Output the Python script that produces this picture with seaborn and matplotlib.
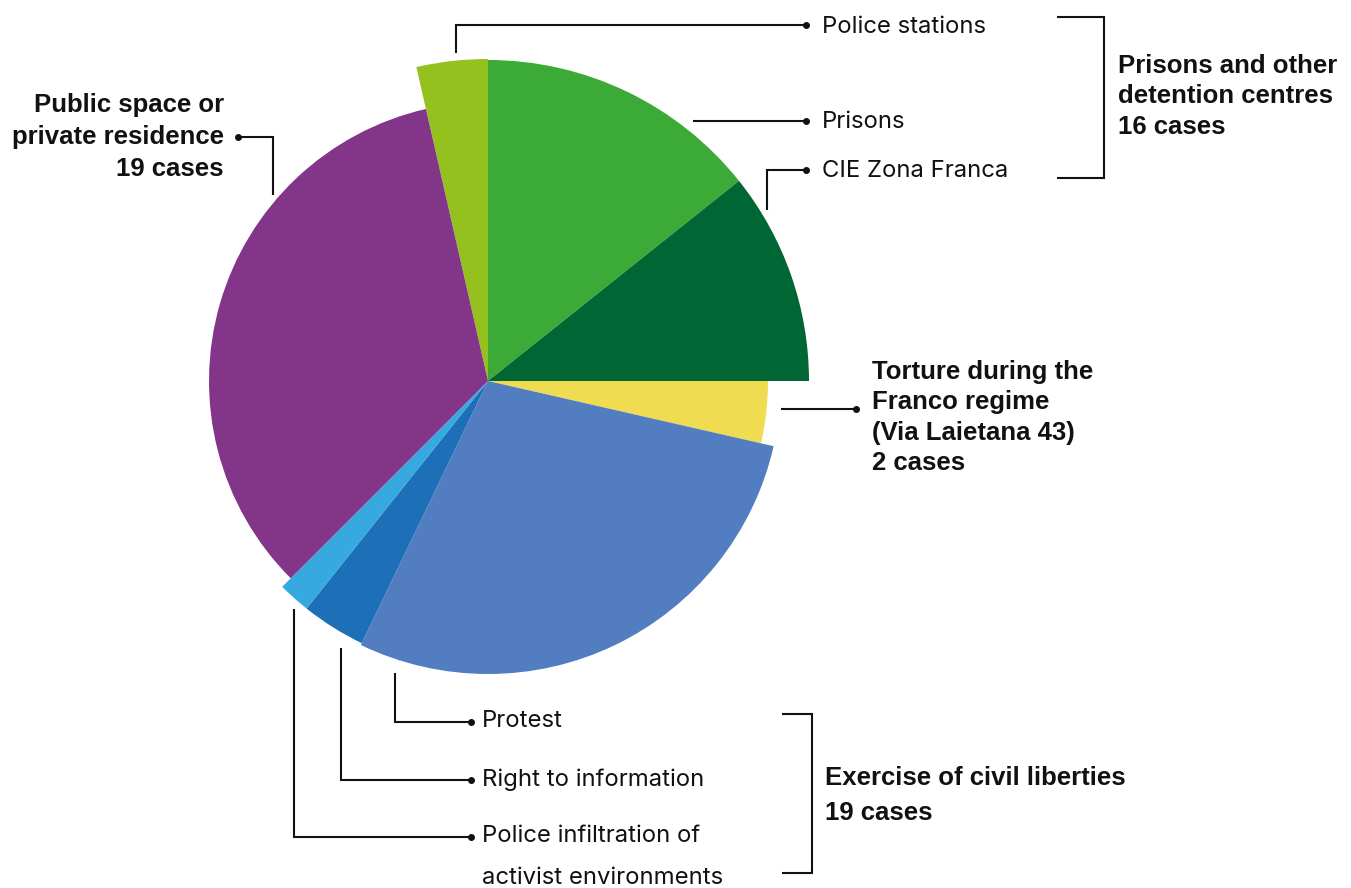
import matplotlib
matplotlib.use("Agg")
import matplotlib.pyplot as plt
import seaborn as sns

# slices, clockwise starting at the top-left (police stations)
slice_labels = ["Police stations", "Prisons", "CIE Zona Franca",
                "Torture during the Franco regime (Via Laietana 43)",
                "Protest", "Right to information",
                "Police infiltration of activist environments",
                "Public space or private residence"]
cases = [2, 8, 6, 2, 16, 2, 1, 19]
slice_colors = ["#95c11f", "#3caa36", "#006633", "#f0dc50",
                "#527dc0", "#1d70b7", "#36a9e1", "#823589"]

group_prisons = ["Prisons and other", "detention centres", "16 cases"]
group_public = ["Public space or", "private residence", "19 cases"]
group_torture = ["Torture during the", "Franco regime", "(Via Laietana 43)", "2 cases"]
group_civil = ["Exercise of civil liberties", "19 cases"]
infiltration_lines = ["Police infiltration of", "activist environments"]

# styling: outer radius of every slice in pixels
radii = [322, 321, 321, 280, 293, 291, 291, 279]

sns.set_theme(style="white")
regular = ["Inter", "DejaVu Sans"]
bold = ["Liberation Sans", "DejaVu Sans"]

W, H = 1351, 888
fig = plt.figure(figsize=(W / 100, H / 100), dpi=100)
ax = fig.add_axes([0, 0, 1, 1])

total = sum(cases)
start = 90 + cases[0] / total * 360
wedges, _ = ax.pie(cases, colors=sns.color_palette(slice_colors), startangle=start,
                   counterclock=False, center=(488, H - 381), radius=1,
                   wedgeprops=dict(linewidth=0))
for w, r in zip(wedges, radii):
    w.set_radius(r)

ax.set_xlim(0, W)
ax.set_ylim(0, H)
ax.set_aspect("equal")
ax.axis("off")


def leader(pts, dot=True):
    xs = [p[0] for p in pts]
    ys = [H - p[1] for p in pts]
    ax.plot(xs, ys, color="#111111", lw=1.5, solid_capstyle="butt",
            solid_joinstyle="miter")
    if dot:
        ax.plot(xs[-1], ys[-1], "o", color="#111111", ms=4)


def text_block(x, y0, rows, step, heavy=False, ha="left"):
    for i, t in enumerate(rows):
        ax.text(x, H - (y0 + i * step), t, ha=ha, va="baseline",
                fontsize=18.5 if heavy else 17.2,
                fontweight="bold" if heavy else "normal",
                family=bold if heavy else regular, color="#111111")


# leaders for the detention group
leader([(456, 53), (456, 25), (806, 25)])
leader([(693, 121), (806, 121)])
leader([(767, 210), (767, 170), (806, 170)])
text_block(822, 33, [slice_labels[0]], 0)
text_block(822, 128, [slice_labels[1]], 0)
text_block(822, 177, [slice_labels[2]], 0)
leader([(1057, 17), (1104, 17), (1104, 178), (1057, 178)], dot=False)
text_block(1118, 73, group_prisons, 30.5, heavy=True)

# public space
leader([(273, 195), (273, 137), (238, 137)])
text_block(224, 112, group_public, 32, heavy=True, ha="right")

# torture
leader([(781, 409), (856, 409)])
text_block(872, 379, group_torture, 30.3, heavy=True)

# civil liberties
leader([(395, 673), (395, 722), (471, 722)])
leader([(341, 648), (341, 780), (471, 780)])
leader([(294, 609), (294, 837), (471, 837)])
text_block(482, 727, [slice_labels[4]], 0)
text_block(482, 786, [slice_labels[5]], 0)
text_block(482, 842, infiltration_lines, 42)
leader([(782, 714), (812, 714), (812, 873), (782, 873)], dot=False)
text_block(825, 785, group_civil, 35, heavy=True)

fig.savefig("out.png", dpi=100)
